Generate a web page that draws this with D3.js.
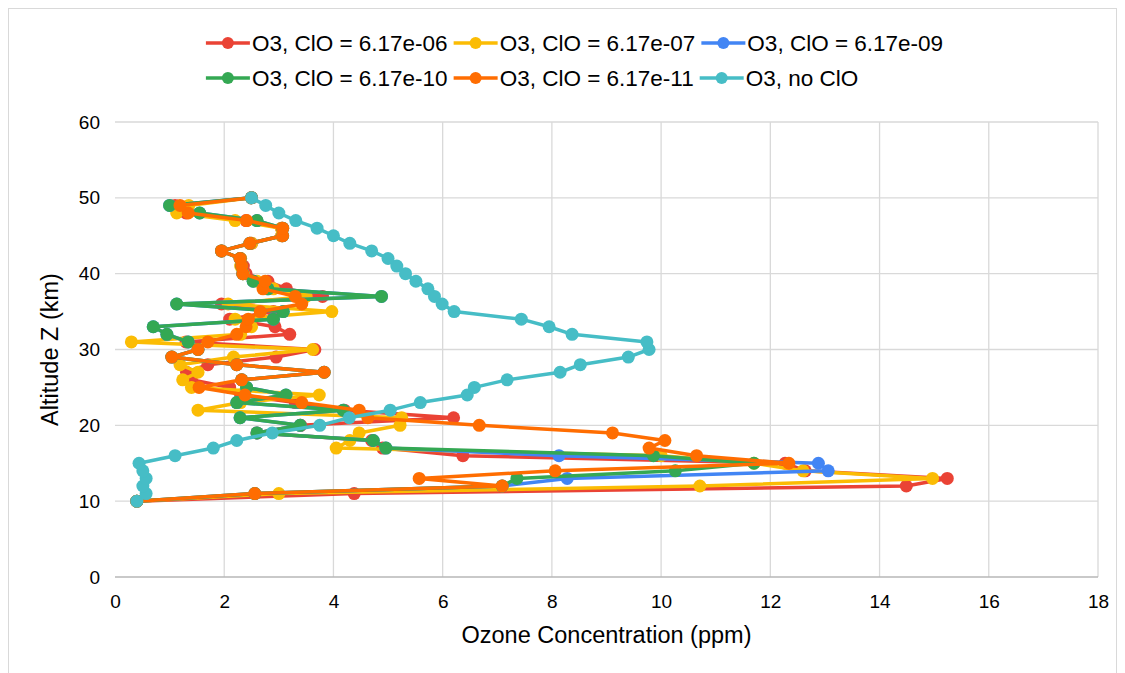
<!DOCTYPE html>
<html>
<head>
<meta charset="utf-8">
<script src="https://cdn.jsdelivr.net/npm/d3@7/dist/d3.min.js"></script>
<style>
  body { margin: 0; background: #fff; }
  text { font-family: "Liberation Sans", Arial, sans-serif; fill: #000; }
</style>
</head>
<body>
<div id="chart"></div>
<script>
// altitude of every sample (km)
const altitudes = [10, 11, 12, 13, 14, 15, 16, 17, 18, 19, 20, 21, 22, 23, 24, 25, 26, 27, 28, 29,
  30, 31, 32, 33, 34, 35, 36, 37, 38, 39, 40, 41, 42, 43, 44, 45, 46, 47, 48, 49, 50];

// ozone (ppm) per run
const clo617e06 = [0.40, 4.38, 14.49, 15.24, 12.64, 12.27, 6.37, 4.90, 4.70, 2.60, 3.40, 6.20, 4.20, 3.30,
  2.30, 2.10, 1.40, 1.31, 1.70, 2.95, 3.66, 1.30, 3.20, 2.93, 2.10, 2.90, 1.95, 3.80, 3.14, 2.80, 2.40,
  2.35, 2.30, 1.95, 2.50, 3.05, 3.05, 2.40, 1.30, 1.10, 2.50];
const clo617e07 = [0.40, 3.00, 10.71, 14.97, 12.60, 11.70, 10.00, 4.05, 4.30, 4.47, 5.22, 5.25, 1.52, 2.30,
  3.74, 1.40, 1.24, 1.52, 1.19, 2.17, 3.62, 0.30, 2.30, 2.50, 2.20, 3.97, 2.07, 3.50, 2.90, 2.60, 2.35,
  2.30, 2.30, 1.95, 2.50, 3.05, 3.05, 2.20, 1.13, 1.35, 2.50];
const clo617e09 = [0.40, 2.56, 7.09, 8.28, 13.06, 12.88, 8.13, 4.96, 4.73, 2.60, 3.39, 2.29, 4.18, 2.23,
  3.13, 2.41, 2.32, 3.83, 2.23, 1.04, 1.52, 1.34, 0.95, 0.70, 2.90, 3.08, 1.13, 4.88, 2.80, 2.53, 2.34,
  2.32, 2.29, 1.95, 2.47, 3.07, 3.07, 2.60, 1.55, 1.00, 2.50];
const clo617e10 = [0.40, 2.56, 7.09, 7.36, 10.26, 11.70, 9.86, 4.96, 4.73, 2.60, 3.39, 2.29, 4.18, 2.23,
  3.13, 2.41, 2.32, 3.83, 2.23, 1.04, 1.52, 1.34, 0.95, 0.70, 2.90, 3.08, 1.13, 4.88, 2.80, 2.53, 2.34,
  2.32, 2.29, 1.95, 2.47, 3.07, 3.07, 2.60, 1.55, 1.00, 2.50];
const clo617e11 = [0.40, 2.56, 7.09, 5.57, 8.06, 12.34, 10.65, 9.78, 10.07, 9.11, 6.67, 4.63, 4.47, 3.42,
  2.38, 1.54, 2.32, 3.83, 2.23, 1.04, 1.52, 1.70, 2.23, 2.40, 2.44, 2.66, 3.42, 3.30, 2.71, 2.75, 2.34,
  2.32, 2.29, 1.95, 2.47, 3.07, 3.07, 2.41, 1.34, 1.19, 2.50];
const noClo = [0.40, 0.57, 0.51, 0.57, 0.51, 0.44, 1.10, 1.80, 2.23, 2.88, 3.75, 4.29, 5.04, 5.59,
  6.45, 6.58, 7.18, 8.15, 8.52, 9.40, 9.78, 9.74, 8.37, 7.95, 7.44, 6.21, 5.99, 5.85, 5.73, 5.51, 5.32,
  5.16, 5.00, 4.70, 4.30, 4.00, 3.70, 3.31, 3.00, 2.76, 2.50];

const seriesNames = ["O3, ClO = 6.17e-06", "O3, ClO = 6.17e-07", "O3, ClO = 6.17e-09",
  "O3, ClO = 6.17e-10", "O3, ClO = 6.17e-11", "O3, no ClO"];
const seriesColors = ["#ea4335", "#fbbc04", "#4285f4", "#34a853", "#ff6d01", "#46bdc6"];
const seriesValues = [clo617e06, clo617e07, clo617e09, clo617e10, clo617e11, noClo];

const xTicks = [0, 2, 4, 6, 8, 10, 12, 14, 16, 18];
const yTicks = [0, 10, 20, 30, 40, 50, 60];

const width = 1125;
const height = 673;
const margin = { top: 122, right: 27, bottom: 96, left: 115 };

const series = seriesNames.map((name, i) => ({
  name: name,
  color: seriesColors[i],
  points: altitudes.map((a, j) => ({ alt: a, v: seriesValues[i][j] }))
}));

const svg = d3
  .select("#chart")
  .append("svg")
  .attr("width", width)
  .attr("height", height);

// light frame round the whole chart
svg
  .append("rect")
  .attr("x", 8.5)
  .attr("y", 8.5)
  .attr("width", 1108)
  .attr("height", 700)
  .attr("fill", "none")
  .attr("stroke", "#d9d9d9");

const xScale = d3
  .scaleLinear()
  .domain([0, 18])
  .range([margin.left, width - margin.right]);

const yScale = d3
  .scaleLinear()
  .domain([0, 60])
  .range([height - margin.bottom, margin.top]);

// grid
svg
  .append("g")
  .selectAll("line")
  .data(xTicks.slice(1))
  .enter()
  .append("line")
  .attr("x1", d => xScale(d))
  .attr("x2", d => xScale(d))
  .attr("y1", yScale(0))
  .attr("y2", yScale(60))
  .attr("stroke", "#d9d9d9")
  .attr("stroke-width", 1.3);

svg
  .append("g")
  .selectAll("line")
  .data(yTicks.slice(1))
  .enter()
  .append("line")
  .attr("x1", xScale(0))
  .attr("x2", xScale(18))
  .attr("y1", d => yScale(d))
  .attr("y2", d => yScale(d))
  .attr("stroke", "#d9d9d9")
  .attr("stroke-width", 1.3);

// axes (labels only, the baseline is drawn separately)
const xAxis = svg
  .append("g")
  .attr("transform", "translate(0," + yScale(0) + ")")
  .call(d3.axisBottom(xScale).tickValues(xTicks).tickSize(0).tickPadding(18));
xAxis.select(".domain").remove();
xAxis.selectAll("text").attr("font-size", 19).attr("font-family", null);

const yAxis = svg
  .append("g")
  .attr("transform", "translate(" + xScale(0) + ",0)")
  .call(d3.axisLeft(yScale).tickValues(yTicks).tickSize(0).tickPadding(15));
yAxis.select(".domain").remove();
yAxis.selectAll("text").attr("font-size", 19).attr("font-family", null);

svg
  .append("line")
  .attr("x1", xScale(0))
  .attr("x2", xScale(18))
  .attr("y1", yScale(0))
  .attr("y2", yScale(0))
  .attr("stroke", "#b7b7b7")
  .attr("stroke-width", 1.5);

svg
  .append("text")
  .attr("x", (xScale(0) + xScale(18)) / 2)
  .attr("y", 643)
  .attr("text-anchor", "middle")
  .attr("font-size", 23.5)
  .text("Ozone Concentration (ppm)");

svg
  .append("text")
  .attr("transform", "translate(58," + (yScale(0) + yScale(60)) / 2 + ") rotate(-90)")
  .attr("text-anchor", "middle")
  .attr("font-size", 23.5)
  .text("Altitude Z (km)");

// the series, each line with its markers, in order
const line = d3
  .line()
  .x(d => xScale(d.v))
  .y(d => yScale(d.alt));

series.forEach(s => {
  const g = svg.append("g");
  g.append("path")
    .datum(s.points)
    .attr("d", line)
    .attr("fill", "none")
    .attr("stroke", s.color)
    .attr("stroke-width", 3.5)
    .attr("stroke-linejoin", "round");
  g.selectAll("circle")
    .data(s.points)
    .enter()
    .append("circle")
    .attr("cx", d => xScale(d.v))
    .attr("cy", d => yScale(d.alt))
    .attr("r", 6.5)
    .attr("fill", s.color);
});

// legend: two rows, first row centred (a bit right of page centre),
// second row starts at the same x
const legendRows = [[0, 1, 2], [3, 4, 5]];
const swatch = 44;
const legend = svg.append("g");
let startX = null;
legendRows.forEach((row, r) => {
  const rowG = legend.append("g");
  let cx = 0;
  row.forEach(i => {
    const item = rowG.append("g").attr("transform", "translate(" + cx + ",0)");
    item.append("line")
      .attr("x1", 0)
      .attr("x2", swatch)
      .attr("stroke", seriesColors[i])
      .attr("stroke-width", 3.5);
    item.append("circle")
      .attr("cx", swatch / 2)
      .attr("r", 6)
      .attr("fill", seriesColors[i]);
    const t = item.append("text")
      .attr("x", swatch + 2)
      .attr("dy", "0.35em")
      .attr("font-size", 22.5)
      .text(seriesNames[i]);
    cx += swatch + 2 + t.node().getComputedTextLength() + 6;
  });
  if (startX === null) startX = (width - (cx - 6)) / 2 + 12;
  rowG.attr("transform", "translate(" + startX + "," + (43 + r * 35) + ")");
});
</script>
</body>
</html>
